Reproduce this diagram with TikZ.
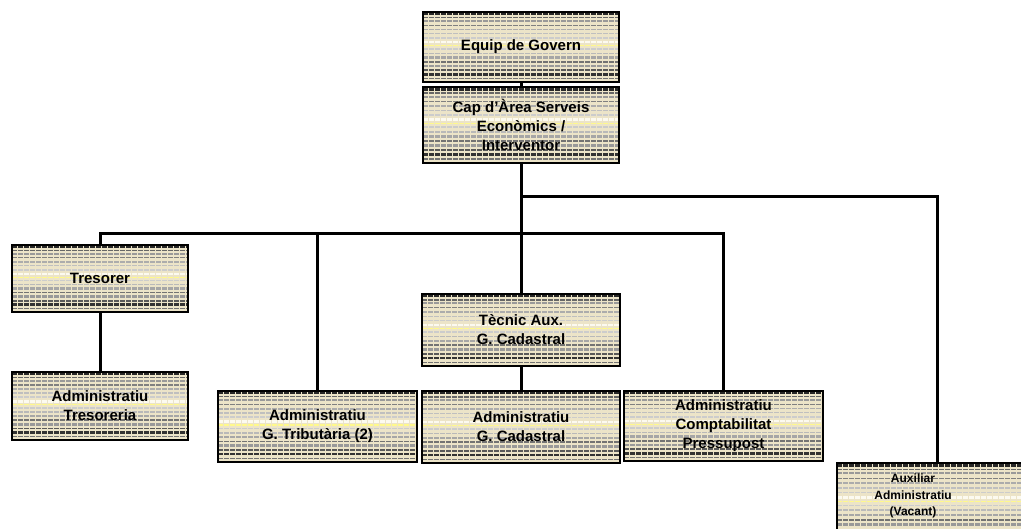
\documentclass[tikz,border=0pt]{standalone}
\usepackage{fontspec}
\setmainfont{Liberation Sans}
\usetikzlibrary{calc}
\definecolor{beige}{RGB}{236,228,200}
\definecolor{pale}{RGB}{252,250,240}
\tikzset{
  stripes/.style={path picture={
    \foreach \f/\c/\w in {0.03/black!85/2.6, 0.08/black!60/1.6, 0.13/gray!80/2.0, 0.19/black!50/1.4,
      0.25/gray!65/1.8, 0.31/gray!50/1.4, 0.37/gray!40/1.6, 0.43/pale/2.6, 0.48/yellow!45/1.2, 0.53/gray!40/1.6,
      0.59/gray!55/1.6, 0.65/gray!70/2.4, 0.71/black!55/1.6, 0.77/gray!80/2.4, 0.83/black!65/1.8,
      0.89/black!80/2.4, 0.95/black!55/1.6}
      \draw[\c, line width=\w pt, dash pattern=on 5pt off 1pt]
        ($(path picture bounding box.north west)!\f!(path picture bounding box.south west)$) --
        ($(path picture bounding box.north east)!\f!(path picture bounding box.south east)$);
  }},
  orgbox/.style={rectangle, draw=black, line width=2pt, fill=beige, stripes, inner sep=0pt,
    align=center, font=\fontsize{15}{19}\selectfont\bfseries},
  conn/.style={line width=3pt, line cap=rect}
}
\begin{document}
\begin{tikzpicture}[x=1pt,y=-1pt]
\useasboundingbox (0,0) rectangle (1021,528);
\node[orgbox, minimum width=196pt, minimum height=70pt] (gov) at (521,47) {Equip de Govern};
\node[orgbox, minimum width=196pt, minimum height=76pt] (cap) at (521,125) {Cap d’Àrea Serveis\\Econòmics /\\Interventor};
\node[orgbox, minimum width=176pt, minimum height=67pt] (tres) at (100,278.5) {Tresorer};
\node[orgbox, minimum width=176pt, minimum height=68pt] (admt) at (100,406) {Administratiu\\Tresoreria};
\node[orgbox, minimum width=198pt, minimum height=72pt] (tec) at (521,330) {Tècnic Aux.\\G. Cadastral};
\node[orgbox, minimum width=198pt, minimum height=72pt] (admc) at (521,427) {Administratiu\\G. Cadastral};
\node[orgbox, minimum width=199pt, minimum height=71pt] (trib) at (317.5,426.5) {Administratiu\\G. Tributària (2)};
\node[orgbox, minimum width=199pt, minimum height=70pt] (comp) at (723.5,426) {Administratiu\\Comptabilitat\\Pressupost};
\node[orgbox, minimum width=200pt, minimum height=80pt] (aux) at (937,503) {};
\node[align=center, inner sep=0pt, font=\fontsize{12}{16.5}\selectfont\bfseries] (auxt) at (913,496) {Auxiliar\\Administratiu\\(Vacant)};
\coordinate (hbar) at (0,233);
\coordinate (rbar) at (0,196);
\draw[conn] (gov.south) -- (cap.north);
\draw[conn] (cap.south) -- (tec.north);
\draw[conn] (tres.north) -- (tres.north |- hbar) -- (comp.north |- hbar) -- (comp.north);
\draw[conn] (trib.north) -- (trib.north |- hbar);
\draw[conn] (cap.south |- rbar) -- (aux.north |- rbar) -- (aux.north);
\draw[conn] (tres.south) -- (admt.north);
\draw[conn] (tec.south) -- (admc.north);
\end{tikzpicture}
\end{document}
